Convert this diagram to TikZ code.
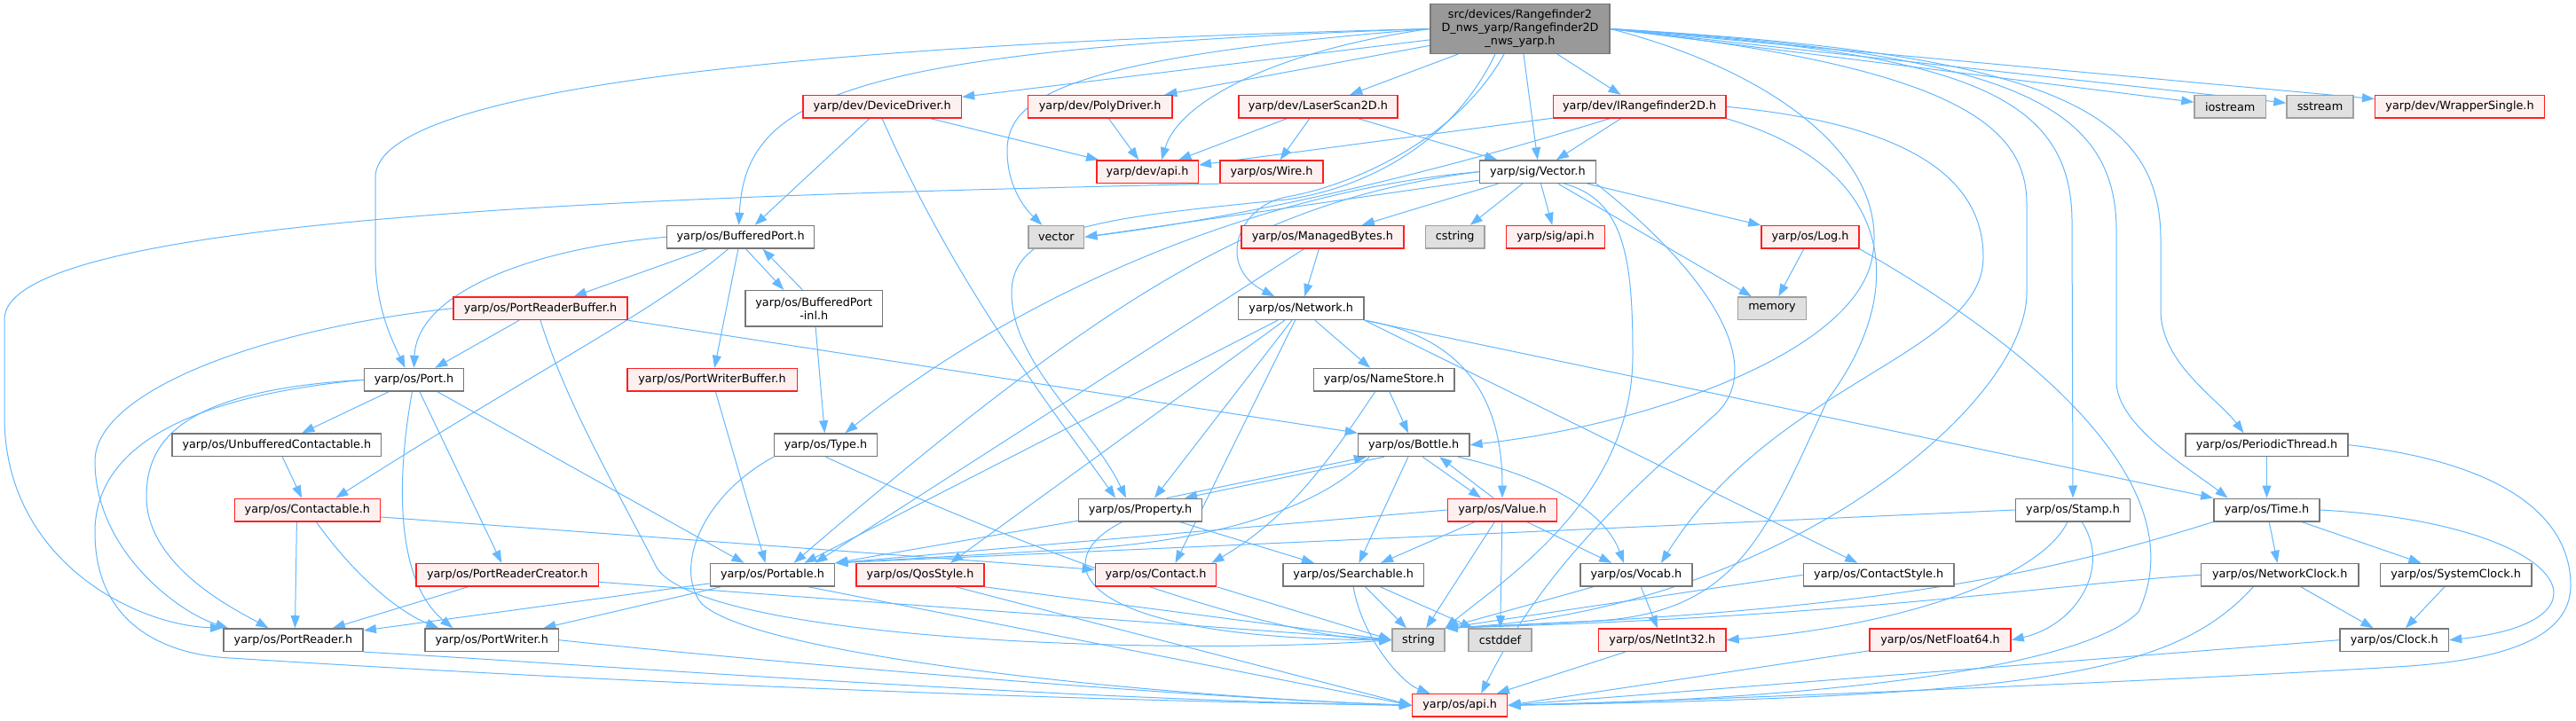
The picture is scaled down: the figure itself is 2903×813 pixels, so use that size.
\documentclass[tikz,border=0pt]{standalone}
\usepackage{fontspec}
\setmainfont{DejaVu Sans}
\usetikzlibrary{arrows.meta}
\definecolor{edgec}{HTML}{63B8FF}
\definecolor{nbord}{HTML}{777777}
\definecolor{rbord}{HTML}{FF2020}
\definecolor{rfill}{HTML}{FFF0F0}
\definecolor{sfill}{HTML}{E0E0E0}
\definecolor{sbord}{HTML}{A0A0A0}
\definecolor{tfill}{HTML}{999999}
\pgfdeclarelayer{bg}
\pgfdeclarelayer{edges}
\pgfsetlayers{bg,edges,main}
\begin{document}
\begin{tikzpicture}[x=0.5pt,y=-0.5pt,
 bx/.style={line width=0.75pt, inner sep=0pt, minimum height=12.75pt, font=\fontsize{6.4}{7.5}\selectfont, align=center},
 wd/.style={minimum width=#1*0.5pt},
 nnode/.style={bx, draw=nbord, fill=white},
 rnode/.style={bx, draw=rbord, fill=rfill},
 snode/.style={bx, draw=sbord, fill=sfill},
 tnode/.style={bx, draw=nbord, fill=tfill},
 edg/.style={draw=edgec, line width=0.5pt, -{Triangle[length=7pt,width=5pt]}}
]
\useasboundingbox (0,0) rectangle (2903,813);
\begin{pgfonlayer}{bg}
\fill[white] (0,0) rectangle (2903,813);
\end{pgfonlayer}

% nodes
\node[tnode, wd=201.7, minimum height=27.85pt] (R) at (1713,32.5) {src/devices/Rangefinder2\\D\_nws\_yarp/Rangefinder2D\\\_nws\_yarp.h};
\node[rnode, wd=178.5] (DD) at (994.2,120.3) {yarp/dev/DeviceDriver.h};
\node[rnode, wd=162.5] (PD) at (1239.7,120.3) {yarp/dev/PolyDriver.h};
\node[rnode, wd=179] (LS) at (1485.4,120.3) {yarp/dev/LaserScan2D.h};
\node[rnode, wd=194.6] (IR) at (1847.6,120.3) {yarp/dev/IRangefinder2D.h};
\node[snode, wd=80.4] (IOS) at (2513.2,120.3) {iostream};
\node[snode, wd=75] (SS) at (2614.5,120.3) {sstream};
\node[rnode, wd=190.6] (WS) at (2772,120.3) {yarp/dev/WrapperSingle.h};

\node[rnode, wd=114.5] (DA) at (1293,193.7) {yarp/dev/api.h};
\node[rnode, wd=116] (WI) at (1433,193.7) {yarp/os/Wire.h};
\node[nnode, wd=131] (VE) at (1732.8,193.7) {yarp/sig/Vector.h};

\node[nnode, wd=166.2] (BP) at (834.6,267.3) {yarp/os/BufferedPort.h};
\node[snode, wd=62.8] (VC) at (1190.3,267.3) {vector};
\node[rnode, wd=182.8] (MB) at (1490.4,267.3) {yarp/os/ManagedBytes.h};
\node[snode, wd=66.6] (CS) at (1639.7,267.3) {cstring};
\node[rnode, wd=110.8] (SA) at (1753,267.3) {yarp/sig/api.h};
\node[rnode, wd=110] (LG) at (2040,267.3) {yarp/os/Log.h};

\node[rnode, wd=196] (PRB) at (609,347.7) {yarp/os/PortReaderBuffer.h};
\node[nnode, wd=154.6, minimum height=20.15pt] (BPI) at (917.3,347.7) {yarp/os/BufferedPort\\-inl.h};
\node[nnode, wd=141.6] (NW) at (1466.2,347.7) {yarp/os/Network.h};
\node[snode, wd=77.3] (MEM) at (1997,347.7) {memory};

\node[nnode, wd=111.7] (PO) at (466.5,428.3) {yarp/os/Port.h};
\node[rnode, wd=191.5] (PWB) at (802.5,428.3) {yarp/os/PortWriterBuffer.h};
\node[nnode, wd=158.7] (NS) at (1559.7,428.3) {yarp/os/NameStore.h};

\node[nnode, wd=235.6] (UC) at (311.9,501.7) {yarp/os/UnbufferedContactable.h};
\node[nnode, wd=116] (TY) at (930.5,501.7) {yarp/os/Type.h};
\node[nnode, wd=125.3] (BO) at (1593.2,501.7) {yarp/os/Bottle.h};
\node[nnode, wd=183.4] (PT) at (2554.5,501.7) {yarp/os/PeriodicThread.h};

\node[rnode, wd=164] (CT) at (346.4,575) {yarp/os/Contactable.h};
\node[nnode, wd=138.7] (PR) at (1285,575) {yarp/os/Property.h};
\node[rnode, wd=123] (VA) at (1693,575) {yarp/os/Value.h};
\node[nnode, wd=128.6] (ST) at (2336,575) {yarp/os/Stamp.h};
\node[nnode, wd=119.3] (TI) at (2554.5,575) {yarp/os/Time.h};

\node[rnode, wd=205.8] (PRC) at (571.7,648.3) {yarp/os/PortReaderCreator.h};
\node[nnode, wd=140.1] (PA) at (870.5,648.3) {yarp/os/Portable.h};
\node[rnode, wd=143.8] (QS) at (1037.1,648.3) {yarp/os/QosStyle.h};
\node[rnode, wd=136.4] (CO) at (1302.5,648.3) {yarp/os/Contact.h};
\node[nnode, wd=158.9] (SE) at (1525.2,648.3) {yarp/os/Searchable.h};
\node[nnode, wd=125.7] (VO) at (1843.9,648.3) {yarp/os/Vocab.h};
\node[nnode, wd=169.6] (CST) at (2117.2,648.3) {yarp/os/ContactStyle.h};
\node[nnode, wd=177.3] (NC) at (2569.2,648.3) {yarp/os/NetworkClock.h};
\node[nnode, wd=170.4] (SC) at (2767.6,648.3) {yarp/os/SystemClock.h};

\node[nnode, wd=157.4] (PRD) at (330.5,721.7) {yarp/os/PortReader.h};
\node[nnode, wd=150.4] (PWR) at (554.2,721.7) {yarp/os/PortWriter.h};
\node[snode, wd=59] (STR) at (1598.5,721.7) {string};
\node[snode, wd=71] (CD) at (1690.5,721.7) {cstddef};
\node[rnode, wd=143.3] (NI) at (1873.3,721.7) {yarp/os/NetInt32.h};
\node[rnode, wd=159] (NF) at (2186.5,721.7) {yarp/os/NetFloat64.h};
\node[nnode, wd=122.5] (CL) at (2698.2,721.7) {yarp/os/Clock.h};

\node[rnode, wd=107] (OA) at (1645.2,795.3) {yarp/os/api.h};

\begin{pgfonlayer}{edges}
% R
\draw[edg] (R) -- (DD);
\draw[edg] (R) -- (PD);
\draw[edg] ([xshift=-35pt]R.south) -- (LS);
\draw[edg] ([xshift=21pt]R.south) -- (IR);
\draw[edg] (R.east) -- (IOS);
\draw[edg] (R.east) -- (SS);
\draw[edg] (R.east) -- (WS);
\draw[edg] ([xshift=2pt]R.south) -- (VE.north);
\draw[edg] (R.west) .. controls (1450,55) and (1330,110) .. ([xshift=8pt]DA.north);
\draw[edg] (R.west) .. controls (950,55) and (840,110) .. ([xshift=-1pt]BP.north);
\draw[edg] (R.west) .. controls (1200,65) and (1135,110) .. (1135,170) .. controls (1135,215) and (1160,240) .. ([xshift=-8pt]VC.north);
\draw[edg] (R.west) .. controls (900,50) and (423,100) .. (423,200) -- (423,290) .. controls (423,350) and (445,390) .. ([xshift=-5pt]PO.north);
\draw[edg] ([xshift=-9pt]R.south) .. controls (1640,160) and (1520,210) .. (1450,222) .. controls (1395,232) and (1370,300) .. ([xshift=-15pt]NW.north);
\draw[edg] ([xshift=-14pt]R.south) .. controls (1630,175) and (1520,215) .. (1450,225) .. controls (1250,245) and (1140,255) .. (1140,330) .. controls (1140,410) and (1230,480) .. ([xshift=-8pt]PR.north);
\draw[edg] (R.east) .. controls (2200,60) and (2335,100) .. (2335,250) -- (ST.north);
\draw[edg] (R.east) .. controls (2250,60) and (2385,110) .. (2385,260) -- (2385,430) .. controls (2385,480) and (2470,530) .. ([xshift=-22pt]TI.north);
\draw[edg] (R.east) .. controls (2300,60) and (2435,120) .. (2435,270) -- (2435,350) .. controls (2435,410) and (2500,450) .. ([xshift=-13pt]PT.north);
\draw[edg] (R.east) .. controls (2200,75) and (2284,140) .. (2284,230) -- (2284,330) .. controls (2284,460) and (2000,690) .. (STR.north east);
\draw[edg] (R.east) .. controls (2000,80) and (2130,180) .. (2110,290) .. controls (2090,400) and (1850,480) .. (BO.east);
% DD, PD, LS
\draw[edg] (DD) -- (DA);
\draw[edg] (DD) -- ([xshift=8pt]BP.north);
\draw[edg] (DD.south) .. controls (1080,330) and (1200,480) .. ([xshift=-14pt]PR.north);
\draw[edg] (PD) -- (DA);
\draw[edg] (LS) -- (DA);
\draw[edg] (LS) -- (WI);
\draw[edg] (LS) -- (VE);
% IR
\draw[edg] (IR) -- (DA);
\draw[edg] (IR) -- (VE);
\draw[edg] ([xshift=-17pt]IR.south) .. controls (1600,200) and (1400,245) .. (VC.east);
\draw[edg] (IR.east) .. controls (2150,140) and (2235,200) .. (2235,290) .. controls (2235,400) and (2000,430) .. ([xshift=14pt]VO.north);
\draw[edg] (IR.south east) .. controls (2140,190) and (2150,330) .. (2060,450) .. controls (1990,600) and (1960,690) .. (1800,700) -- (STR.north east);
% WI
\draw[edg] (WI.south west) .. controls (800,220) and (5,240) .. (5,360) -- (5,470) .. controls (5,630) and (150,705) .. (PRD.north west);
% VE
\draw[edg] (VE) -- (VC.east);
\draw[edg] (VE) -- (MB);
\draw[edg] (VE) -- (CS);
\draw[edg] (VE) -- (SA);
\draw[edg] (VE) -- (LG);
\draw[edg] (VE) -- (MEM);
\draw[edg] (VE.west) .. controls (1420,215) and (1150,330) .. ([xshift=11pt]TY.north);
\draw[edg] (VE.west) .. controls (1420,225) and (1250,330) .. ([xshift=12pt]PA.north);
\draw[edg] ([xshift=15pt]VE.south) .. controls (1830,225) and (1840,290) .. (1840,400) .. controls (1840,560) and (1700,650) .. (STR.north east);
\draw[edg] (VE.south east) .. controls (1940,320) and (1990,420) .. (1930,470) .. controls (1830,560) and (1740,640) .. ([xshift=12pt]OA.north);
% BP
\draw[edg] (BP.west) .. controls (600,280) and (470,330) .. (PO.north);
\draw[edg] (BP) -- (PRB);
\draw[edg] ([xshift=3pt]BP.south) -- ([xshift=-17pt]BPI.north);
\draw[edg] ([xshift=-6.5pt]BPI.north) -- ([xshift=12.5pt]BP.south);
\draw[edg] (BP) -- (PWB);
\draw[edg] ([xshift=-7pt]BP.south) .. controls (740,350) and (600,420) .. ([xshift=16pt]CT.north);
\draw[edg] (BPI) -- (TY);
% MB, LG
\draw[edg] (MB) -- (NW);
\draw[edg] (MB) -- ([xshift=24pt]PA.north);
\draw[edg] (LG) -- (MEM);
\draw[edg] (LG.south east) .. controls (2270,380) and (2480,540) .. (2410,690) .. controls (2340,760) and (2000,790) .. (OA.east);
% PRB
\draw[edg] (PRB) -- (PO);
\draw[edg] (PRB.west) .. controls (300,370) and (107,440) .. (107,520) .. controls (107,620) and (200,690) .. ([xshift=3pt]PRD.north west);
\draw[edg] (PRB.south) .. controls (640,460) and (700,560) .. (740,640) .. controls (790,720) and (1300,740) .. (STR.west);
\draw[edg] (PRB.south east) -- (BO.north west);
% NW
\draw[edg] (NW) -- (NS);
\draw[edg] (NW.south east) .. controls (1650,380) and (1693,450) .. (VA.north);
\draw[edg] (NW.south east) -- ([xshift=-12pt]CST.north);
\draw[edg] (NW.south east) -- (TI.north west);
\draw[edg] (NW) -- ([xshift=18pt]PA.north);
\draw[edg] (NW) -- ([xshift=8pt]PR.north);
\draw[edg] (NW) -- ([xshift=11pt]CO.north);
\draw[edg] (NW) -- ([xshift=17pt]QS.north);
% PO
\draw[edg] (PO) -- (UC);
\draw[edg] (PO.west) .. controls (200,440) and (165,500) .. (165,560) .. controls (165,640) and (270,690) .. ([xshift=-14pt]PRD.north);
\draw[edg] ([xshift=-1pt]PO.south) .. controls (450,520) and (440,650) .. ([xshift=-22pt]PWR.north);
\draw[edg] (PO) -- (PRC);
\draw[edg] ([xshift=-15pt]PO.south east) -- ([xshift=-16pt]PA.north);
\draw[edg] (PO.west) .. controls (180,450) and (107,520) .. (107,600) .. controls (107,700) and (180,738) .. (260,742) .. controls (700,770) and (1200,790) .. (OA.west);
% PWB, NS, PT, UC, TY
\draw[edg] (PWB) -- ([xshift=-4pt]PA.north);
\draw[edg] (NS) -- (BO);
\draw[edg] ([xshift=-5pt]NS.south) .. controls (1510,500) and (1460,580) .. ([xshift=-3pt]CO.north east);
\draw[edg] (PT) -- (TI);
\draw[edg] (PT.east) .. controls (2850,525) and (2897,600) .. (2897,660) .. controls (2897,720) and (2820,745) .. (2700,752) .. controls (2400,770) and (1900,790) .. (OA.east);
\draw[edg] (UC) -- (CT);
\draw[edg] (TY.south) .. controls (1200,640) and (1450,720) .. (STR.west);
\draw[edg] (TY.south west) .. controls (790,560) and (760,640) .. (790,680) .. controls (850,740) and (1300,785) .. (OA.west);
% BO
\draw[edg] ([xshift=5pt]BO.south) -- ([xshift=-12pt]VA.north);
\draw[edg] ([xshift=15pt]BO.south west) -- ([xshift=-10pt]PR.north east);
\draw[edg] (BO) -- (SE);
\draw[edg] ([xshift=25pt]BO.south) .. controls (1750,540) and (1810,580) .. ([xshift=-7pt]VO.north);
\draw[edg] ([xshift=-25pt]BO.south) .. controls (1500,560) and (1400,610) .. (1200,620) -- (PA.north east);
% ST, TI
\draw[edg] (ST.west) -- (PA.north east);
\draw[edg] ([xshift=-3pt]ST.south) .. controls (2300,650) and (2150,705) .. (NI.east);
\draw[edg] ([xshift=5pt]ST.south) .. controls (2380,640) and (2340,705) .. (NF.east);
\draw[edg] (TI) -- (NC);
\draw[edg] (TI) -- (SC);
\draw[edg] (TI.east) .. controls (2890,590) and (2960,700) .. (CL.east);
\draw[edg] (TI.south west) .. controls (2300,650) and (2100,690) .. (STR.north east);
% CT
\draw[edg] ([xshift=-6pt]CT.south) -- ([xshift=1pt]PRD.north);
\draw[edg] ([xshift=5pt]CT.south) .. controls (400,650) and (450,690) .. ([xshift=-30pt]PWR.north);
\draw[edg] ([yshift=-4pt]CT.east) -- ([yshift=3pt]CO.west);
% PR
\draw[edg] ([xshift=-20pt]PR.north east) -- ([xshift=5pt]BO.south west);
\draw[edg] (PR) -- (PA.north east);
\draw[edg] (PR) -- (SE);
\draw[edg] ([xshift=-10pt]PR.south) .. controls (1180,630) and (1200,720) .. (STR.west);
% VA
\draw[edg] ([xshift=-5pt]VA.north) -- ([xshift=14.5pt]BO.south);
\draw[edg] (VA) -- (SE);
\draw[edg] (VA) -- (VO);
\draw[edg] (VA) -- (STR);
\draw[edg] (VA) -- (CD);
\draw[edg] (VA.west) -- (PA.north east);
% row 8
\draw[edg] (PRC) -- (PRD);
\draw[edg] ([yshift=-4pt]PRC.east) -- (STR.west);
\draw[edg] (PA) -- (PRD);
\draw[edg] (PA) -- (PWR);
\draw[edg] ([xshift=-15pt]PA.south east) -- (OA.west);
\draw[edg] (QS.south east) -- (STR.west);
\draw[edg] ([xshift=20pt]QS.south) -- (OA.west);
\draw[edg] (CO.south east) -- (STR.west);
\draw[edg] (SE) -- (STR);
\draw[edg] (SE) -- (CD);
\draw[edg] (SE.south) .. controls (1535,720) and (1580,770) .. ([xshift=-17pt]OA.north);
\draw[edg] (VO) -- (STR.north east);
\draw[edg] (VO) -- (NI);
\draw[edg] (CST.west) -- (STR.north east);
\draw[edg] (NC) -- (CL);
\draw[edg] (NC.west) .. controls (2300,660) and (2100,695) .. (STR.north east);
\draw[edg] ([xshift=-15pt]NC.south) .. controls (2450,760) and (2300,785) .. (OA.east);
\draw[edg] (SC) -- (CL);
% row 9
\draw[edg] (PRD.south east) .. controls (600,745) and (1200,790) .. (OA.west);
\draw[edg] (PWR.east) .. controls (800,740) and (1300,785) .. (OA.west);
\draw[edg] (NI) -- (OA);
\draw[edg] (NF) -- (OA.east);
\draw[edg] (CL.west) -- (OA.east);
\end{pgfonlayer}
\end{tikzpicture}
\end{document}
